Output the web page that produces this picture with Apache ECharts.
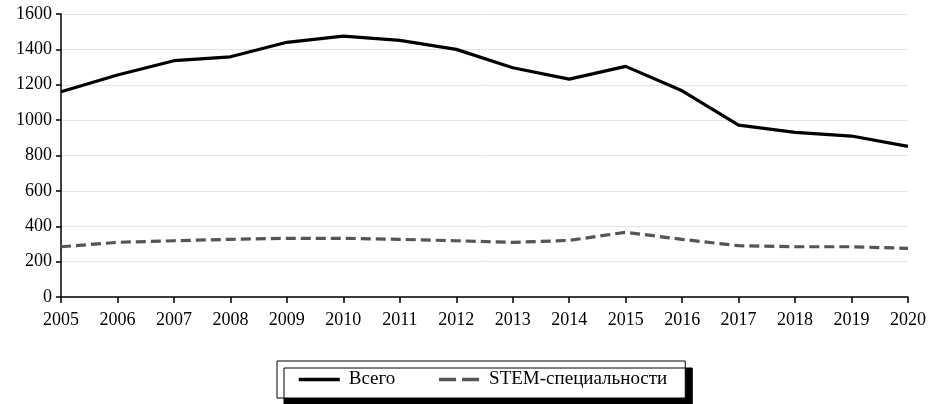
<!DOCTYPE html>
<html><head><meta charset="utf-8">
<script src="https://cdn.jsdelivr.net/npm/echarts@6/dist/echarts.min.js"></script>
<style>html,body{margin:0;padding:0;background:#fff}#c{width:932px;height:404px}</style>
</head><body><div id="c"></div>
<script>
const years = ['2005','2006','2007','2008','2009','2010','2011','2012','2013','2014','2015','2016','2017','2018','2019','2020'];
const total = [1160,1255,1336,1358,1440,1475,1451,1400,1296,1232,1304,1166,972,931,910,852];
const stem = [284,309,318,326,332,332,326,318,309,320,366,326,290,284,284,275];
const yTicks = [0,200,400,600,800,1000,1200,1400,1600];
const names = ['Всего','STEM-специальности'];
const font = 'Liberation Serif';
const chart = echarts.init(document.getElementById('c'));
chart.setOption({
  animation:false,
  backgroundColor:'#fff',
  grid:{left:61,right:24,top:14,bottom:107,containLabel:false},
  xAxis:{type:'category',data:years,boundaryGap:false,
    axisLine:{lineStyle:{color:'#000',width:1.5}},
    axisTick:{show:true,alignWithLabel:true,length:6,lineStyle:{color:'#000',width:1.5}},
    axisLabel:{color:'#000',fontFamily:font,fontSize:18,margin:14,interval:0},
    splitLine:{show:false}},
  yAxis:{type:'value',min:yTicks[0],max:yTicks[yTicks.length-1],interval:200,
    axisLine:{show:true,lineStyle:{color:'#000',width:1.5}},
    axisTick:{show:true,length:5,lineStyle:{color:'#000',width:1.5}},
    axisLabel:{color:'#000',fontFamily:font,fontSize:18,margin:9,formatter:v=>String(v)},
    splitLine:{show:true,lineStyle:{color:'#e4e4e4',width:1}}},
  legend:{bottom:6,left:277,
    data:[
      {name:names[0],lineStyle:{color:'#000',width:3.5,type:'solid'}},
      {name:names[1],lineStyle:{color:'#555',width:3.5,type:[17,6]}}
    ],
    itemWidth:41,itemHeight:14,itemGap:42,
    padding:[9,18,9,20],
    itemStyle:{opacity:0},
    borderColor:'#000',borderWidth:1,backgroundColor:'#fff',
    shadowColor:'#000',shadowBlur:0,shadowOffsetX:7,shadowOffsetY:7,
    textStyle:{color:'#000',fontFamily:font,fontSize:19,padding:[0,0,0,4]}},
  series:[
    {name:names[0],type:'line',data:total,symbol:'none',
      lineStyle:{color:'#000',width:3.2},itemStyle:{color:'#000'}},
    {name:names[1],type:'line',data:stem,symbol:'none',
      lineStyle:{color:'#555',width:3.2,type:[10,5]},itemStyle:{color:'#555'}}
  ]
});
</script></body></html>
